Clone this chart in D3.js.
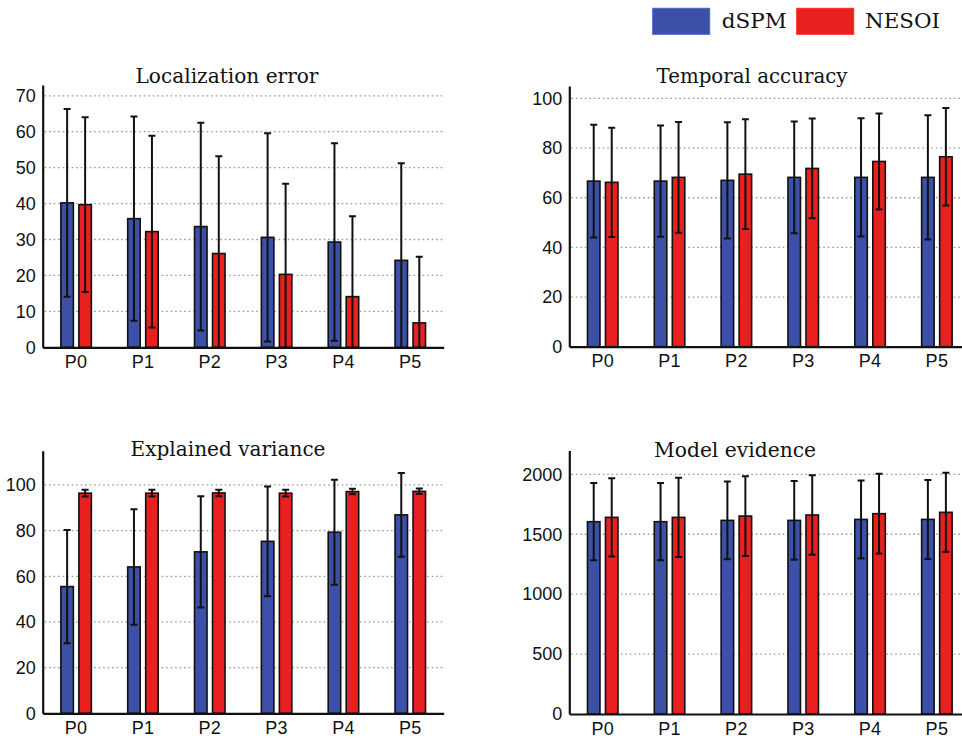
<!DOCTYPE html>
<html>
<head>
<meta charset="utf-8">
<script src="https://cdn.jsdelivr.net/npm/d3@7"></script>
<style>
  html, body { margin: 0; padding: 0; background: #fff; }
  svg { display: block; }
  .tick text { font-family: "Liberation Sans", Arial, sans-serif; font-size: 18px; fill: #111; }
  .title, .legend-label { font-family: "DejaVu Serif", serif; fill: #111; }
</style>
</head>
<body>
<svg id="chart" width="962" height="739"></svg>
<script>
// Categories and series
const categories = ["P0", "P1", "P2", "P3", "P4", "P5"];
const series = ["dSPM", "NESOI"];
const seriesColors = ["#3b50a6", "#e8201f"];

// Localization error (mean ± std)
const locErrMeanDSPM  = [40.2, 35.8, 33.6, 30.6, 29.3, 24.2];
const locErrStdDSPM   = [26.1, 28.4, 28.9, 29.0, 27.5, 27.0];
const locErrMeanNESOI = [39.7, 32.2, 26.1, 20.3, 14.1, 6.8];
const locErrStdNESOI  = [24.3, 26.7, 27.1, 25.2, 22.4, 18.4];
const locErrTicks = [0, 10, 20, 30, 40, 50, 60, 70];

// Temporal accuracy (mean ± std)
const tempAccMeanDSPM  = [66.7, 66.7, 67.0, 68.2, 68.2, 68.2];
const tempAccStdDSPM   = [22.7, 22.4, 23.4, 22.5, 23.8, 25.0];
const tempAccMeanNESOI = [66.2, 68.2, 69.5, 71.8, 74.6, 76.5];
const tempAccStdNESOI  = [22.0, 22.3, 22.1, 20.1, 19.3, 19.6];
const tempAccTicks = [0, 20, 40, 60, 80, 100];

// Explained variance (mean ± std)
const explVarMeanDSPM  = [55.5, 64.1, 70.7, 75.3, 79.3, 86.9];
const explVarStdDSPM   = [24.8, 25.3, 24.4, 24.0, 23.0, 18.3];
const explVarMeanNESOI = [96.4, 96.4, 96.5, 96.4, 97.1, 97.2];
const explVarStdNESOI  = [1.5, 1.5, 1.4, 1.5, 1.2, 1.2];
const explVarTicks = [0, 20, 40, 60, 80, 100];

// Model evidence (mean ± std)
const modelEvMeanDSPM  = [1605, 1605, 1616, 1616, 1624, 1624];
const modelEvStdDSPM   = [322, 322, 325, 328, 325, 330];
const modelEvMeanNESOI = [1641, 1641, 1652, 1661, 1672, 1683];
const modelEvStdNESOI  = [327, 330, 333, 332, 333, 330];
const modelEvTicks = [0, 500, 1000, 1500, 2000];

const panels = [
  { title: "Localization error", titleX: 227, titleY: 83, titleLen: 183,
    means: [locErrMeanDSPM, locErrMeanNESOI], stds: [locErrStdDSPM, locErrStdNESOI],
    ticks: locErrTicks, yMax: 73,
    left: 42.7, top: 85, width: 401, bottom: 347.3 },
  { title: "Temporal accuracy", titleX: 752, titleY: 83, titleLen: 191,
    means: [tempAccMeanDSPM, tempAccMeanNESOI], stds: [tempAccStdDSPM, tempAccStdNESOI],
    ticks: tempAccTicks, yMax: 105,
    left: 569.3, top: 86, width: 401, bottom: 346.7 },
  { title: "Explained variance", titleX: 228, titleY: 456, titleLen: 195,
    means: [explVarMeanDSPM, explVarMeanNESOI], stds: [explVarStdDSPM, explVarStdNESOI],
    ticks: explVarTicks, yMax: 115,
    left: 42.7, top: 450.7, width: 401, bottom: 713.3 },
  { title: "Model evidence", titleX: 735, titleY: 457, titleLen: 162,
    means: [modelEvMeanDSPM, modelEvMeanNESOI], stds: [modelEvStdDSPM, modelEvStdNESOI],
    ticks: modelEvTicks, yMax: 2200,
    left: 569.3, top: 450.4, width: 401, bottom: 714 }
];

const svg = d3.select("#chart");

panels.forEach((p, pi) => {
  const x0 = d3.scaleBand().domain(categories)
    .range([p.left, p.left + p.width]).paddingInner(0).paddingOuter(0);
  const x1 = d3.scaleBand().domain(series)
    .range([-15.25, 15.25]).paddingInner(0.306).paddingOuter(0);
  const y = d3.scaleLinear().domain([0, p.yMax]).range([p.bottom, p.top]);

  const g = svg.append("g");

  const clipId = "clip" + pi;
  svg.append("clipPath").attr("id", clipId)
    .append("rect")
    .attr("x", p.left).attr("y", p.top)
    .attr("width", p.width).attr("height", p.bottom - p.top);

  // dotted grid
  g.append("g").selectAll("line")
    .data(p.ticks.filter(t => t > 0))
    .join("line")
    .attr("x1", p.left + 2).attr("x2", p.left + p.width)
    .attr("y1", d => y(d)).attr("y2", d => y(d))
    .attr("stroke", "#939393").attr("stroke-width", 1.3)
    .attr("stroke-dasharray", "1.5,3");

  // records: one per category/series
  const rows = [];
  categories.forEach((c, i) => {
    series.forEach((s, si) => {
      rows.push({ cat: c, s, si, mean: p.means[si][i], std: p.stds[si][i] });
    });
  });

  const plot = g.append("g").attr("clip-path", `url(#${clipId})`);

  plot.selectAll("rect.bar")
    .data(rows)
    .join("rect")
    .attr("class", "bar")
    .attr("x", d => x0(d.cat) + x0.bandwidth() / 2 + x1(d.s))
    .attr("y", d => y(d.mean))
    .attr("width", x1.bandwidth())
    .attr("height", d => y(0) - y(d.mean))
    .attr("fill", d => seriesColors[d.si])
    .attr("stroke", "#111")
    .attr("stroke-width", 1.6);

  const cx = d => x0(d.cat) + x0.bandwidth() / 2 + x1(d.s) + x1.bandwidth() / 2;
  const capHalf = 3.5;

  const eb = plot.selectAll("g.err").data(rows).join("g").attr("class", "err")
    .attr("stroke", "#111").attr("stroke-width", 2);
  eb.append("line")
    .attr("x1", cx).attr("x2", cx)
    .attr("y1", d => y(d.mean - d.std)).attr("y2", d => y(d.mean + d.std));
  eb.append("line")
    .attr("x1", d => cx(d) - capHalf).attr("x2", d => cx(d) + capHalf)
    .attr("y1", d => y(d.mean + d.std)).attr("y2", d => y(d.mean + d.std));
  eb.append("line")
    .attr("x1", d => cx(d) - capHalf).attr("x2", d => cx(d) + capHalf)
    .attr("y1", d => y(d.mean - d.std)).attr("y2", d => y(d.mean - d.std));

  // axes
  const yAxis = g.append("g")
    .attr("transform", `translate(${p.left},0)`)
    .call(d3.axisLeft(y).tickValues(p.ticks).tickSize(0).tickPadding(7).tickFormat(d3.format("d")));
  yAxis.select(".domain").attr("stroke", "#111").attr("stroke-width", 2.2);

  const xAxis = g.append("g")
    .attr("transform", `translate(0,${p.bottom})`)
    .call(d3.axisBottom(x0).tickSize(0).tickPadding(8));
  xAxis.select(".domain").attr("stroke", "#111").attr("stroke-width", 2.2);
  xAxis.selectAll(".tick text").attr("letter-spacing", "0.3px");

  // title
  g.append("text").attr("class", "title")
    .attr("x", p.titleX).attr("y", p.titleY)
    .attr("text-anchor", "middle")
    .attr("font-size", 20)
    .attr("textLength", p.titleLen).attr("lengthAdjust", "spacingAndGlyphs")
    .text(p.title);
});

// legend
const legendItems = [
  { rectX: 652.7, textX: 721.7, textLen: 65 },
  { rectX: 796.7, textX: 865, textLen: 75 }
];
const legend = svg.append("g");
series.forEach((s, i) => {
  const li = legendItems[i];
  legend.append("rect")
    .attr("x", li.rectX).attr("y", 8.3)
    .attr("width", 57).attr("height", 26)
    .attr("fill", seriesColors[i])
    .attr("stroke", d3.color(seriesColors[i]).brighter(0.6))
    .attr("stroke-width", 1);
  legend.append("text").attr("class", "legend-label")
    .attr("x", li.textX).attr("y", 27.5)
    .attr("font-size", 20)
    .attr("textLength", li.textLen).attr("lengthAdjust", "spacingAndGlyphs")
    .text(s);
});
</script>
</body>
</html>
